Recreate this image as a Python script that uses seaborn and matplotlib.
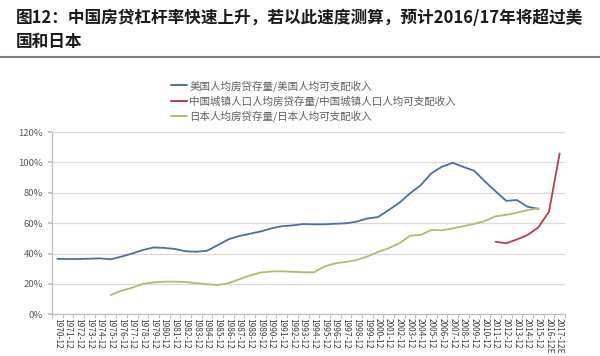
import matplotlib
matplotlib.use("Agg")
import matplotlib.pyplot as plt
import seaborn as sns
import pandas as pd
from matplotlib.lines import Line2D
from matplotlib.ticker import FuncFormatter

# ---------------- data ----------------
categories = [f"{y}-12" for y in range(1970, 2016)] + ["2016-12E", "2017-12E"]

us_labels = [f"{y}-12" for y in range(1970, 2016)]
us_values = [36.5, 36.4, 36.4, 36.6, 36.8, 36.2, 38.0, 40.0, 42.3, 44.0,
             43.7, 43.0, 41.5, 41.2, 41.8, 45.5, 49.3, 51.5, 53.0, 54.5,
             56.5, 58.0, 58.5, 59.4, 59.2, 59.2, 59.6, 59.9, 61.0, 63.1,
             64.0, 68.6, 73.4, 79.6, 85.0, 92.8, 97.2, 99.7, 97.0, 94.5,
             87.5, 81.0, 74.7, 75.2, 70.8, 69.4]

cn_labels = ["2011-12", "2012-12", "2013-12", "2014-12", "2015-12", "2016-12E", "2017-12E"]
cn_values = [47.8, 46.7, 49.3, 52.2, 57.2, 67.5, 105.9]

jp_labels = [f"{y}-12" for y in range(1975, 2016)]
jp_values = [12.7, 15.5, 17.5, 20.0, 21.0, 21.5, 21.5, 21.2, 20.5, 19.8,
             19.3, 20.4, 23.0, 25.5, 27.5, 28.2, 28.3, 28.0, 27.7, 27.6,
             31.5, 33.5, 34.5, 35.7, 38.0, 41.0, 43.5, 46.7, 51.7, 52.3,
             55.5, 55.3, 56.6, 58.0, 59.5, 61.4, 64.5, 65.5, 66.9, 68.6, 69.7]

series_names = ["美国人均房贷存量/美国人均可支配收入",
                "中国城镇人口人均房贷存量/中国城镇人口人均可支配收入",
                "日本人均房贷存量/日本人均可支配收入"]
colors = ["#4A6FA5", "#B83D48", "#A8C068"]

title_text = "图12：中国房贷杠杆率快速上升，若以此速度测算，预计2016/17年将超过美\n国和日本"

# ---------------- build long table ----------------
rows = []
for name, labs, vals in zip(series_names, [us_labels, cn_labels, jp_labels],
                            [us_values, cn_values, jp_values]):
    for l, v in zip(labs, vals):
        rows.append({"pos": categories.index(l), "value": v, "series": name})
df = pd.DataFrame(rows)

# ---------------- figure ----------------
sns.set_theme(style="white")
plt.rcParams["font.family"] = ["Noto Sans CJK SC", "DejaVu Sans"]

fig = plt.figure(figsize=(6.0, 3.56), dpi=100)
ax = fig.add_axes([52 / 600, 1 - 314.3 / 356, (565 - 52) / 600, (314.3 - 132) / 356])

sns.lineplot(data=df, x="pos", y="value", hue="series", hue_order=series_names,
             palette=colors, linewidth=1.3, sort=False, legend=False, ax=ax)

ax.set_xlim(-0.5, len(categories) - 0.5)
ax.set_ylim(0, 120)
ax.set_yticks([0, 20, 40, 60, 80, 100, 120])
ax.yaxis.set_major_formatter(FuncFormatter(lambda v, p: f"{int(v)}%"))
ax.yaxis.grid(True, color="#D9D9D9", linewidth=0.9)
ax.xaxis.grid(False)
ax.set_xlabel("")
ax.set_ylabel("")

ax.set_xticks(range(len(categories)))
ax.set_xticklabels(categories, rotation=-90, fontsize=6, color="#404040")
ax.set_xticks([i + 0.5 for i in range(-1, len(categories))], minor=True)
ax.tick_params(axis="x", which="major", length=0, pad=3)
ax.tick_params(axis="x", which="minor", length=3, color="#BFBFBF", width=0.8, bottom=True)
ax.tick_params(axis="y", length=3, color="#BFBFBF", labelsize=6.8, labelcolor="#595959", left=True)

for s in ["top", "right"]:
    ax.spines[s].set_visible(False)
for s in ["left", "bottom"]:
    ax.spines[s].set_color("#BFBFBF")
    ax.spines[s].set_linewidth(0.9)

# legend
handles = [Line2D([0], [0], color=c, lw=1.4) for c in colors]
fig.legend(handles, series_names, loc="upper left",
           bbox_to_anchor=(171 / 600, 1 - 80 / 356), frameon=False,
           fontsize=7.6, labelcolor="#606060", handlelength=1.5,
           handletextpad=0.25, labelspacing=0.35, borderpad=0, borderaxespad=0)

# title and separator
fig.text(16 / 600, 1 - 9 / 356, title_text, ha="left", va="top",
         fontsize=12.0, fontweight="bold", color="#1A1A1A", linespacing=1.4)
fig.add_artist(Line2D([0, 1], [1 - 57 / 356, 1 - 57 / 356], color="#7F7F7F",
                      lw=1.5, transform=fig.transFigure))

fig.savefig("out.png", dpi=100, facecolor="white")
